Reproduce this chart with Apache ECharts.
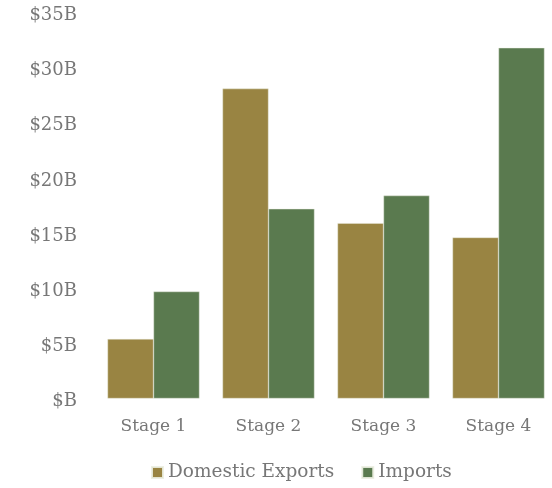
<!DOCTYPE html>
<html>
<head>
<meta charset="utf-8">
<script src="https://cdn.jsdelivr.net/npm/echarts@6/dist/echarts.min.js"></script>
<style>
  html, body { margin: 0; padding: 0; background: #fff; overflow: hidden; }
  #chart { width: 552px; height: 488px; }
</style>
</head>
<body>
<div id="chart"></div>
<script>
// Trade value by stage, in billions of dollars
const stages = ['Stage 1', 'Stage 2', 'Stage 3', 'Stage 4'];
const domesticExports = [5.4, 28.1, 15.9, 14.6];
const imports = [9.7, 17.2, 18.4, 31.8];
const seriesNames = ['Domestic Exports', 'Imports'];

const FONT = '"DejaVu Serif", "Liberation Serif", serif';
const TEXT = '#777777';

const chart = echarts.init(document.getElementById('chart'), null, { renderer: 'canvas' });

chart.setOption({
  animation: false,
  color: ['#998442', '#5a7a4f'],
  textStyle: { fontFamily: FONT },
  grid: {
    left: 96, width: 460, top: 12.5, bottom: 89.5,
    containLabel: false,
    outerBoundsMode: 'none'
  },
  legend: {
    data: seriesNames,
    bottom: 1,
    left: 146,
    itemWidth: 11,
    itemHeight: 11,
    itemGap: 27,
    icon: 'rect',
    textStyle: { fontFamily: FONT, fontSize: 18.5, color: TEXT }
  },
  xAxis: {
    type: 'category',
    data: stages,
    axisLine: { show: false },
    axisTick: { show: false },
    axisLabel: { fontFamily: FONT, fontSize: 17, color: TEXT, margin: 20 }
  },
  yAxis: {
    type: 'value',
    min: 0,
    max: 35,
    interval: 5,
    splitLine: { show: false },
    axisLine: { show: false },
    axisTick: { show: false },
    axisLabel: {
      fontFamily: FONT,
      fontSize: 18,
      color: TEXT,
      margin: 19,
      verticalAlign: 'top',
      lineHeight: 18,
      padding: [-6, 0, 0, 0],
      formatter: v => (v === 0 ? '$B' : '$' + v + 'B')
    }
  },
  series: [
    {
      name: seriesNames[0],
      type: 'bar',
      data: domesticExports,
      barGap: '0%',
      barCategoryGap: '20%',
      itemStyle: { borderColor: 'rgba(235,238,225,0.9)', borderWidth: 0.5 }
    },
    {
      name: seriesNames[1],
      type: 'bar',
      data: imports,
      barGap: '0%',
      barCategoryGap: '20%',
      itemStyle: { borderColor: 'rgba(235,238,225,0.9)', borderWidth: 0.5 }
    }
  ]
});
</script>
</body>
</html>
